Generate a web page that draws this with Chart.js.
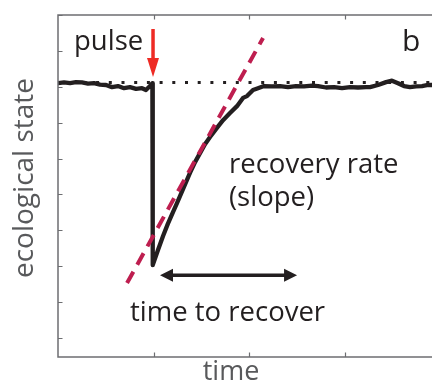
<!DOCTYPE html>
<html>
<head>
<meta charset="utf-8">
<script src="https://cdn.jsdelivr.net/npm/chart.js@4"></script>
<style>
  html, body { margin: 0; padding: 0; background: #fff; }
  canvas { display: block; }
</style>
</head>
<body>
<canvas id="chart" width="432" height="384"></canvas>
<script>
// Time series of the ecological state: steady, knocked down by a pulse, then recovering.
const timeValues = [
  0.00, 0.63, 1.26, 1.88, 2.51, 3.14, 3.77, 4.40, 5.03, 5.65, 6.28, 6.91, 7.54, 8.17, 8.80, 9.21, 9.63, 9.88,
  9.92,
  10.47, 11.00, 11.50, 12.04, 12.46, 13.09, 13.82, 14.35, 14.87, 15.39, 15.92, 16.54, 17.28, 18.01, 18.74,
  19.37, 19.79, 20.42, 20.94, 21.57, 22.41, 23.25, 24.08, 24.92, 25.76, 26.60, 27.23, 28.06, 28.90, 29.74,
  30.58, 31.41, 32.25, 32.67, 33.51, 34.35, 34.97, 35.60, 36.23, 36.86, 37.49, 38.12, 38.74, 39.16
];
const stateValues = [
  7.10, 7.12, 7.10, 7.13, 7.12, 7.09, 7.10, 7.06, 7.05, 6.99, 7.02, 6.96, 6.99, 6.94, 6.96, 6.91, 7.02, 7.10,
  2.03,
  2.45, 2.84, 3.18, 3.51, 3.76, 4.15, 4.60, 4.90, 5.15, 5.40, 5.60, 5.82, 6.07, 6.27, 6.46,
  6.69, 6.74, 6.91, 6.96, 7.02, 7.01, 7.02, 6.99, 7.02, 7.01, 7.03, 7.02, 6.98, 6.99, 6.96,
  6.99, 6.98, 6.99, 6.99, 7.05, 7.13, 7.17, 7.10, 7.02, 6.99, 7.01, 7.02, 7.05, 7.05
];

// Undisturbed equilibrium level
const baselineLevel = 7.12;

// Tangent to the recovery curve (recovery rate)
const slopeTimes = [7.23, 21.47];
const slopeStates = [1.53, 8.36];

// Pulse marker and the time-to-recover span
const pulseTime = 9.95;
const pulseArrowStates = [8.61, 7.27];
const recoverTimes = [10.68, 25.03];
const recoverLevel = 1.75;

// Axis ranges and tick positions
const timeRange = [0, 39.16];
const stateRange = [-0.53, 9.0];
const timeTicks = [10, 20, 30];
const stateTicks = [0, 1, 2, 3, 4, 5, 6, 7, 8, 9];

const INK = '#231f20';
const AXIS = '#6d6e71';
const AXIS_TEXT = '#58595b';
const SLOPE = '#be1e4f';
const PULSE = '#ee2b24';
const FONT = '"Open Sans", "Noto Sans", sans-serif';

const toPoints = (xs, ys) => xs.map((x, i) => ({ x, y: ys[i] }));

function arrowHead(ctx, tipX, tipY, dirX, dirY, len, half) {
  const px = -dirY, py = dirX;
  ctx.beginPath();
  ctx.moveTo(tipX, tipY);
  ctx.lineTo(tipX - dirX * len + px * half, tipY - dirY * len + py * half);
  ctx.lineTo(tipX - dirX * len - px * half, tipY - dirY * len - py * half);
  ctx.closePath();
  ctx.fill();
}

const framePlugin = {
  id: 'frame',
  afterDatasetsDraw(chart) {
    const { ctx, chartArea: a, scales: { x, y } } = chart;
    ctx.save();

    // box edges (left, top, bottom) with inward tick marks
    ctx.strokeStyle = AXIS;
    ctx.lineWidth = 1.5;
    ctx.beginPath();
    ctx.moveTo(a.right + 2, a.top);
    ctx.lineTo(a.left, a.top);
    ctx.lineTo(a.left, a.bottom);
    ctx.lineTo(a.right + 2, a.bottom);
    ctx.stroke();
    ctx.lineWidth = 1.2;
    ctx.beginPath();
    timeTicks.forEach(t => {
      const px = Math.round(x.getPixelForValue(t)) + 0.5;
      ctx.moveTo(px, a.top); ctx.lineTo(px, a.top + 4.5);
      ctx.moveTo(px, a.bottom); ctx.lineTo(px, a.bottom - 4.5);
    });
    stateTicks.forEach(v => {
      const py = Math.round(y.getPixelForValue(v)) + 0.5;
      ctx.moveTo(a.left, py); ctx.lineTo(a.left + 4.5, py);
    });
    ctx.stroke();

    // pulse arrow
    const pxPulse = x.getPixelForValue(pulseTime);
    const pTop = y.getPixelForValue(pulseArrowStates[0]);
    const pTip = y.getPixelForValue(pulseArrowStates[1]);
    ctx.strokeStyle = PULSE;
    ctx.fillStyle = PULSE;
    ctx.lineWidth = 3.5;
    ctx.beginPath();
    ctx.moveTo(pxPulse, pTop);
    ctx.lineTo(pxPulse, pTip - 14);
    ctx.stroke();
    arrowHead(ctx, pxPulse, pTip, 0, 1, 19, 6);

    // time-to-recover double arrow
    const rL = x.getPixelForValue(recoverTimes[0]);
    const rR = x.getPixelForValue(recoverTimes[1]);
    const rY = y.getPixelForValue(recoverLevel);
    ctx.strokeStyle = INK;
    ctx.fillStyle = INK;
    ctx.lineWidth = 3.5;
    ctx.beginPath();
    ctx.moveTo(rL + 8, rY);
    ctx.lineTo(rR - 8, rY);
    ctx.stroke();
    arrowHead(ctx, rL, rY, -1, 0, 13, 6.5);
    arrowHead(ctx, rR, rY, 1, 0, 13, 6.5);

    // annotations
    ctx.fillStyle = INK;
    ctx.textBaseline = 'alphabetic';
    ctx.textAlign = 'left';
    ctx.font = `27.5px ${FONT}`;
    ctx.fillText('pulse', 74, 50);
    ctx.fillText('recovery rate', 229, 173);
    ctx.fillText('(slope)', 229, 206);
    ctx.fillText('time to recover', 130, 321);
    ctx.font = `30px ${FONT}`;
    ctx.fillText('b', 402, 51);

    // axis titles
    ctx.fillStyle = AXIS_TEXT;
    ctx.font = `27px ${FONT}`;
    ctx.textAlign = 'center';
    ctx.fillText('time', 231, 380);
    ctx.save();
    ctx.translate(33, 178);
    ctx.rotate(-Math.PI / 2);
    ctx.font = `28px ${FONT}`;
    ctx.fillText('ecological state', 0, 0);
    ctx.restore();

    ctx.restore();
  }
};

new Chart(document.getElementById('chart'), {
  type: 'line',
  data: {
    datasets: [
      {
        label: 'equilibrium',
        data: toPoints(timeRange, [baselineLevel, baselineLevel]),
        borderColor: INK,
        borderWidth: 3,
        borderDash: [3, 9.7],
        borderCapStyle: 'butt',
        pointRadius: 0,
        order: 3
      },
      {
        label: 'ecological state',
        data: toPoints(timeValues, stateValues),
        borderColor: INK,
        borderWidth: 4.3,
        borderJoinStyle: 'round',
        borderCapStyle: 'round',
        pointRadius: 0,
        tension: 0,
        order: 2
      },
      {
        label: 'recovery rate',
        data: toPoints(slopeTimes, slopeStates),
        borderColor: SLOPE,
        borderWidth: 4,
        borderDash: [13, 8],
        borderCapStyle: 'butt',
        pointRadius: 0,
        order: 1
      }
    ]
  },
  options: {
    responsive: false,
    devicePixelRatio: 1,
    animation: false,
    events: [],
    layout: { padding: { left: 58, top: 15, right: 0, bottom: 27 } },
    plugins: { legend: { display: false }, tooltip: { enabled: false } },
    scales: {
      x: { type: 'linear', min: timeRange[0], max: timeRange[1], display: false },
      y: { type: 'linear', min: stateRange[0], max: stateRange[1], display: false }
    }
  },
  plugins: [framePlugin]
});
</script>
</body>
</html>
